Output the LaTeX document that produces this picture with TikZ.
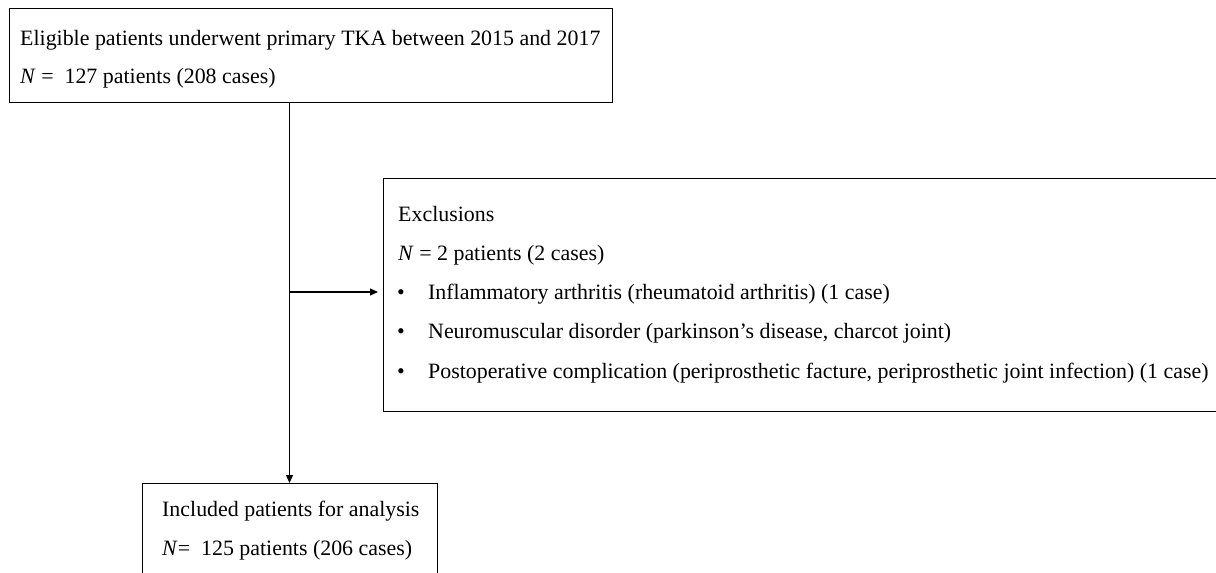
\documentclass[tikz,border=0pt]{standalone}
\usepackage{fontspec}
\setmainfont{Liberation Serif}
\usetikzlibrary{arrows.meta}
\newcommand\myfs{\fontsize{21.9}{26}\selectfont}
\begin{document}
\begin{tikzpicture}[x=1pt,y=-1pt,
  box/.style={draw, line width=1.2pt, inner sep=0pt, anchor=north west},
  txt/.style={anchor=base west, inner sep=0pt, font=\myfs},
  bul/.style={anchor=base, inner sep=0pt, font=\myfs},
  arr/.style={-{Triangle[length=8pt,width=7pt]}, line width=1.2pt}]
\useasboundingbox (0,0) rectangle (1216,573);
\clip (0,0) rectangle (1216,573);
% boxes
\node[box, minimum width=603pt, minimum height=94pt] (top) at (9,8) {};
\node[box, minimum width=900pt, minimum height=233pt] (excl) at (383,178) {};
\node[box, minimum width=295pt, minimum height=130pt] (bot) at (142,483) {};
% texts
\node[txt] (t1) at (20,45) {Eligible patients underwent primary TKA between 2015 and 2017};
\node[txt] (t2) at (20,83) {\textit{N} =\ \ 127 patients (208 cases)};
\node[txt] (e1) at (398,221) {Exclusions};
\node[txt] (e2) at (398,260) {\textit{N} = 2 patients (2 cases)};
\node[bul] (b1) at (401,299) {•};
\node[txt] (e3) at (428,299) {Inflammatory arthritis (rheumatoid arthritis) (1 case)};
\node[bul] (b2) at (401,338.5) {•};
\node[txt] (e4) at (428,338.5) {Neuromuscular disorder (parkinson’s disease, charcot joint)};
\node[bul] (b3) at (401,378) {•};
\node[txt] (e5) at (428,378) {Postoperative complication (periprosthetic facture, periprosthetic joint infection) (1 case)};
\node[txt] (i1) at (162,516) {Included patients for analysis};
\node[txt] (i2) at (162,555) {\textit{N}=\ \ 125 patients (206 cases)};
% connectors
\coordinate (j) at (289.5,292);
\draw[arr] (top.south -| j) -- (bot.north -| j);
\draw[arr, shorten >=5pt] (j) -- (j -| excl.west);
\end{tikzpicture}
\end{document}
